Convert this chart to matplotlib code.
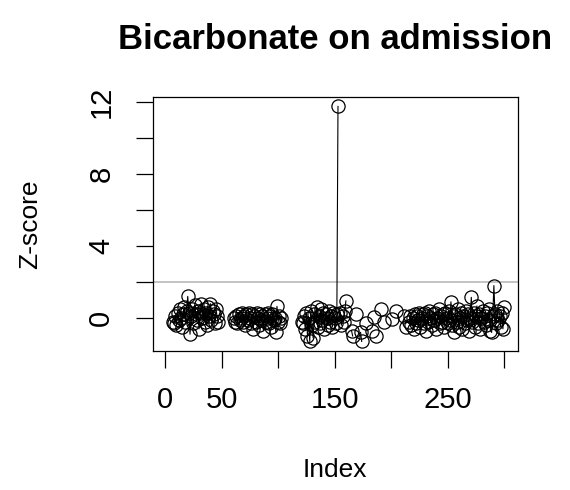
import numpy as np
import matplotlib
matplotlib.use("Agg")
import matplotlib.pyplot as plt

# Z-scores of bicarbonate on admission, by row index (None = missing)
NA = None
zscore = [
    NA, NA, NA, NA, NA, NA, -0.2, -0.3, 0.1, -0.4,                 # 1-10
    0.3, -0.1, 0.5, 0.0, -0.5, 0.2, 0.6, -0.2, 0.4, 1.2,            # 11-20
    0.3, -0.9, 0.1, 0.5, -0.3, 0.7, 0.2, -0.1, 0.4, -0.6,           # 21-30
    0.3, 0.8, 0.0, 0.5, -0.2, 0.3, -0.4, 0.6, 0.1, 0.8,             # 31-40
    -0.1, 0.4, 0.2, -0.3, 0.5, 0.1, -0.2, NA, NA, NA,               # 41-50
    NA, NA, NA, NA, NA, NA, NA, NA, NA, NA,                         # 51-60
    0.0, -0.2, 0.1, -0.3, 0.2, -0.1, 0.0, 0.3, -0.2, 0.1,           # 61-70
    -0.4, 0.2, -0.1, 0.3, 0.0, -0.3, 0.2, -0.6, 0.1, -0.2,          # 71-80
    0.3, 0.0, -0.4, 0.2, -0.1, 0.1, -0.7, 0.2, -0.2, 0.0,           # 81-90
    0.3, -0.3, 0.1, -0.5, 0.2, -0.1, 0.0, -0.8, 0.65, -0.2,         # 91-100
    0.1, -0.3, 0.0, NA, NA, NA, NA, NA, NA, NA,                     # 101-110
    NA, NA, NA, NA, NA, NA, NA, NA, NA, NA,                         # 111-120
    -0.2, -0.3, 0.1, -0.6, 0.3, -1.0, 0.0, -1.3, 0.4, -0.4,         # 121-130
    -1.1, 0.2, -0.2, 0.6, -0.5, 0.1, -0.3, 0.5, -0.1, 0.3,          # 131-140
    -0.6, 0.2, 0.0, -0.4, 0.4, -0.2, 0.1, -0.5, 0.3, 0.0,           # 141-150
    -0.3, 0.2, 11.75, NA, 0.3, -0.4, 0.1, -0.2, 0.4, 0.95,          # 151-160
    NA, NA, NA, NA, -0.7, -1.0, NA, NA, 0.2, NA,                    # 161-170
    NA, NA, -0.8, -1.3, NA, NA, NA, -0.3, NA, NA,                   # 171-180
    NA, NA, -0.7, NA, 0.05, NA, -1.0, NA, NA, NA,                   # 181-190
    0.5, NA, NA, -0.2, NA, NA, NA, NA, NA, NA,                      # 191-200
    -0.05, NA, NA, 0.4, NA, NA, NA, NA, NA, NA,                     # 201-210
    0.1, NA, -0.5, NA, NA, -0.2, 0.1, -0.4, 0.0, -0.6,              # 211-220
    0.2, -0.3, 0.1, -0.1, 0.3, -0.5, 0.0, 0.2, -0.3, 0.3,           # 221-230
    -0.7, 0.1, -0.2, 0.4, 0.0, -0.4, 0.2, -0.1, 0.3, -0.6,          # 231-240
    0.0, 0.5, -0.3, 0.1, -0.2, 0.2, -0.5, 0.3, 0.0, -0.3,           # 241-250
    0.4, -0.1, 0.9, -0.4, 0.1, -0.8, 0.2, -0.2, 0.5, -0.5,          # 251-260
    0.0, 0.3, -0.6, 0.1, -0.3, 0.4, -0.1, 0.2, -0.7, 0.0,           # 261-270
    1.15, -0.2, 0.3, -0.5, 0.1, 0.67, -0.3, 0.2, -0.6, 0.0,         # 271-280
    0.4, -0.2, 0.1, -0.4, 0.3, -0.1, 0.5, -0.7, -0.8, 0.1,          # 281-290
    1.8, 0.2, -0.3, 0.4, -0.1, 0.1, -0.5, 0.3, -0.6, 0.6,           # 291-300
]
threshold = 2
title = "Bicarbonate on admission"
xticks = [0, 50, 100, 150, 200, 250, 300]
xticklabels = ["0", "50", "", "150", "", "250", ""]
yticks = [0, 2, 4, 6, 8, 10, 12]
yticklabels = ["0", "", "4", "", "8", "", "12"]

z = np.array([np.nan if v is None else v for v in zscore], dtype=float)
idx = np.arange(1, len(z) + 1)

plt.rcParams['font.family'] = ['Liberation Sans', 'DejaVu Sans']

fig = plt.figure(figsize=(5.7, 4.9), dpi=100)
ax = fig.add_axes([0.268, 0.284, 0.640, 0.518])

ax.plot(idx, z, color='black', lw=0.8, marker='o', markersize=9.5,
        markerfacecolor='none', markeredgecolor='black', markeredgewidth=0.9)
ax.axhline(threshold, color='#bebebe', lw=1.3, zorder=0)

# R style 4% padding
n = len(z)
xpad = 0.04 * (n - 1)
ax.set_xlim(1 - xpad, n + xpad)
lo, hi = np.nanmin(z), np.nanmax(z)
ypad = 0.04 * (hi - lo)
ax.set_ylim(lo - ypad, hi + ypad)

ax.set_xticks(xticks)
ax.set_xticklabels(xticklabels)
ax.set_yticks(yticks)
ax.set_yticklabels(yticklabels, rotation=90, va='center')
ax.tick_params(direction='out', length=12, width=0.9, labelsize=21, pad=13)
ax.tick_params(axis='y', pad=15)
for s in ax.spines.values():
    s.set_linewidth(0.9)

ax.set_xlabel("Index", fontsize=19)
ax.xaxis.set_label_coords(0.5, -0.469)
ax.xaxis.label.set_va('center')
ax.set_ylabel("Z-score", fontsize=19)
ax.yaxis.set_label_coords(-0.336, 0.5)
ax.yaxis.label.set_va('center')

ax.text(0.5, 1.225, title, transform=ax.transAxes, ha='center', va='center',
        fontsize=25, fontweight='bold')

fig.savefig("out.png", dpi=100)
